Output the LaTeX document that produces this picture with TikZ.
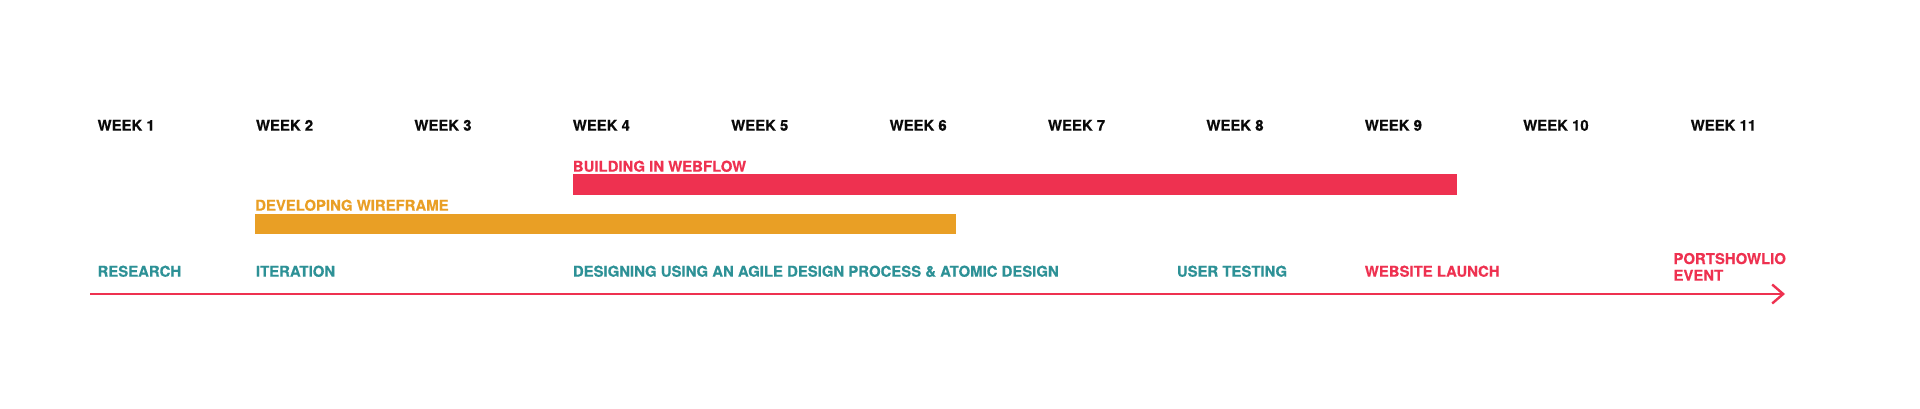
\documentclass[tikz,border=0pt]{standalone}
\usepackage{fontspec}
\setmainfont{TeX Gyre Heros}[BoldFeatures={FakeBold=0.6}]
\usetikzlibrary{arrows.meta}
\definecolor{tlred}{RGB}{238,49,80}
\definecolor{tlorange}{RGB}{233,159,37}
\definecolor{tlteal}{RGB}{45,145,150}
\definecolor{tlblack}{RGB}{10,10,10}
\begin{document}
\begin{tikzpicture}[x=1pt,y=-1pt,
  lbl/.style={anchor=base west,inner sep=0pt,font=\fontsize{14.9}{17}\selectfont\bfseries},
  weeklbl/.style={lbl,text=tlblack},
  teallbl/.style={lbl,text=tlteal},
  redlbl/.style={lbl,text=tlred},
  orangelbl/.style={lbl,text=tlorange},
  redbar/.style={fill=tlred,draw=none},
  orangebar/.style={fill=tlorange,draw=none},
  axisline/.style={draw=tlred,line width=2.4pt,-{Straight Barb[length=11pt,width=19pt,line width=2.4pt]}}
]
\useasboundingbox (0,0) rectangle (1920,409);
% week headings
\node[weeklbl] (w1) at (97.4,130.7) {WEEK 1};
\node[weeklbl] (w2) at (255.8,130.7) {WEEK 2};
\node[weeklbl] (w3) at (414.2,130.7) {WEEK 3};
\node[weeklbl] (w4) at (572.6,130.7) {WEEK 4};
\node[weeklbl] (w5) at (731.0,130.7) {WEEK 5};
\node[weeklbl] (w6) at (889.4,130.7) {WEEK 6};
\node[weeklbl] (w7) at (1047.8,130.7) {WEEK 7};
\node[weeklbl] (w8) at (1206.2,130.7) {WEEK 8};
\node[weeklbl] (w9) at (1364.6,130.7) {WEEK 9};
\node[weeklbl] (w10) at (1523.0,130.7) {WEEK 10};
\node[weeklbl] (w11) at (1690.5,130.7) {WEEK 11};
% bars
\node[redlbl] (buildlbl) at (572.7,171.7) {BUILDING IN WEBFLOW};
\path[redbar] (572.7,174.3) rectangle (1457,195);
\node[orangelbl] (devlbl) at (255,210.7) {DEVELOPING WIREFRAME};
\path[orangebar] (255,213.5) rectangle (956,234);
% bottom row
\node[teallbl] (research) at (97.4,276.7) {RESEARCH};
\node[teallbl] (iteration) at (255.8,276.7) {ITERATION};
\node[teallbl] (designing) at (572.7,276.7) {DESIGNING USING AN AGILE DESIGN PROCESS \& ATOMIC DESIGN};
\node[teallbl] (usertest) at (1176.7,276.7) {USER TESTING};
\node[redlbl] (launch) at (1364.6,276.7) {WEBSITE LAUNCH};
\node[redlbl] (porta) at (1673.3,264) {PORTSHOWLIO};
\node[redlbl] (portb) at (1673.3,280.7) {EVENT};
% axis
\coordinate (axisstart) at (90,294);
\coordinate (axisend) at (1785,294);
\draw[axisline] (axisstart) -- (axisend);
\end{tikzpicture}
\end{document}
